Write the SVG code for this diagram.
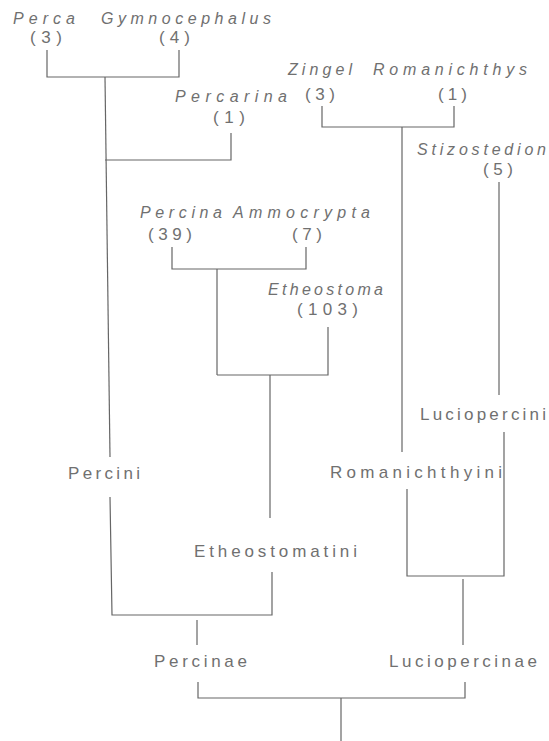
<svg xmlns="http://www.w3.org/2000/svg" width="549" height="741" viewBox="0 0 549 741">
<style>
.t{font-family:"Liberation Sans","DejaVu Sans",sans-serif;font-size:17px;fill:#707070;}
.g{font-style:italic;font-size:16px;}
.c{fill:none;stroke:#666;stroke-width:1.2;}
</style>
<rect width="549" height="741" fill="#fff"/>
<g id="connectors" class="c">
<path d="M47,50 V77 H179 V50"/>
<path d="M105,77 L110,457"/>
<path d="M231,133 V160 H105"/>
<path d="M322,106 V127 H454 V106"/>
<path d="M402,127 V452"/>
<path d="M499,182 V395"/>
<path d="M172,247 V269 H306 V247"/>
<path d="M217,269 V375"/>
<path d="M328,327 V375 H217"/>
<path d="M270,375 V518"/>
<path d="M110,497 L112,615 H272 V572"/>
<path d="M197,620 V645"/>
<path d="M407,489 V576 H504 V432"/>
<path d="M463,579 V645"/>
<path d="M198,682 V698 H465 V682"/>
<path d="M341,698 V741"/>
</g>
<g id="perca"><text class="t g" x="13" y="24" textLength="62" lengthAdjust="spacing">Perca</text><text class="t" x="30" y="43" textLength="32" lengthAdjust="spacing">(3)</text></g>
<g id="gymnocephalus"><text class="t g" x="101" y="24" textLength="170" lengthAdjust="spacing">Gymnocephalus</text><text class="t" x="159" y="43" textLength="31" lengthAdjust="spacing">(4)</text></g>
<g id="percarina"><text class="t g" x="175" y="102" textLength="112" lengthAdjust="spacing">Percarina</text><text class="t" x="213" y="123" textLength="32" lengthAdjust="spacing">(1)</text></g>
<g id="zingel"><text class="t g" x="288" y="75" textLength="64" lengthAdjust="spacing">Zingel</text><text class="t" x="305" y="100" textLength="30" lengthAdjust="spacing">(3)</text></g>
<g id="romanichthys"><text class="t g" x="373" y="75" textLength="154" lengthAdjust="spacing">Romanichthys</text><text class="t" x="438" y="100" textLength="29" lengthAdjust="spacing">(1)</text></g>
<g id="stizostedion"><text class="t g" x="417" y="155" textLength="129" lengthAdjust="spacing">Stizostedion</text><text class="t" x="483" y="175" textLength="30" lengthAdjust="spacing">(5)</text></g>
<g id="percina"><text class="t g" x="140" y="218" textLength="82" lengthAdjust="spacing">Percina</text><text class="t" x="148" y="240" textLength="44" lengthAdjust="spacing">(39)</text></g>
<g id="ammocrypta"><text class="t g" x="233" y="218" textLength="137" lengthAdjust="spacing">Ammocrypta</text><text class="t" x="292" y="240" textLength="30" lengthAdjust="spacing">(7)</text></g>
<g id="etheostoma"><text class="t g" x="268" y="295" textLength="115" lengthAdjust="spacing">Etheostoma</text><text class="t" x="297" y="315" textLength="61" lengthAdjust="spacing">(103)</text></g>
<g id="luciopercini"><text class="t" x="420" y="420" textLength="126" lengthAdjust="spacing">Luciopercini</text></g>
<g id="percini"><text class="t" x="68" y="479" textLength="72" lengthAdjust="spacing">Percini</text></g>
<g id="romanichthyini"><text class="t" x="330" y="478" textLength="172" lengthAdjust="spacing">Romanichthyini</text></g>
<g id="etheostomatini"><text class="t" x="194" y="557" textLength="163" lengthAdjust="spacing">Etheostomatini</text></g>
<g id="percinae"><text class="t" x="154" y="667" textLength="93" lengthAdjust="spacing">Percinae</text></g>
<g id="luciopercinae"><text class="t" x="389" y="667" textLength="148" lengthAdjust="spacing">Luciopercinae</text></g>
</svg>
